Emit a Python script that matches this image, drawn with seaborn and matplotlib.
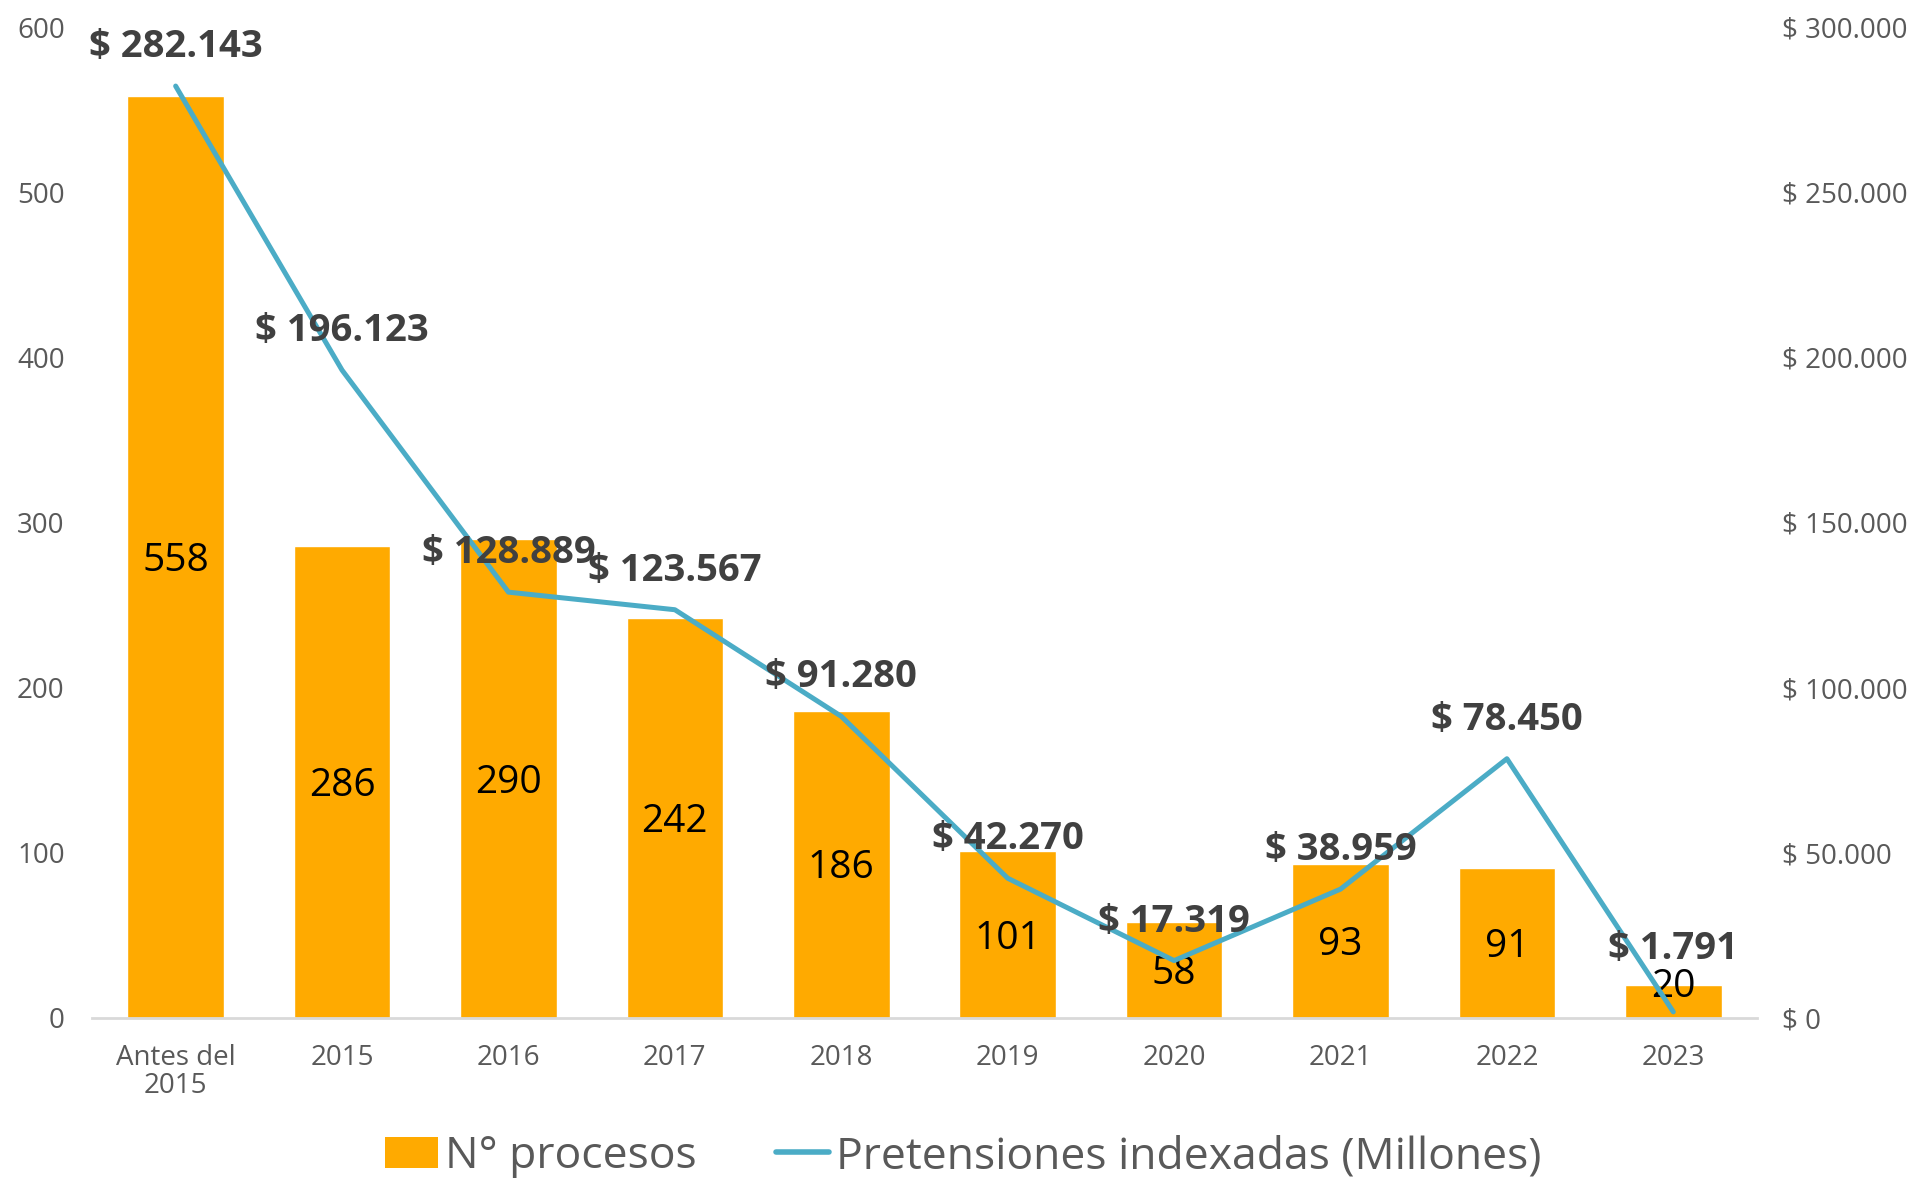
import numpy as np
import pandas as pd
import seaborn as sns
import matplotlib.pyplot as plt
from matplotlib.patches import Patch
from matplotlib.lines import Line2D

sns.set_theme(style="white")
plt.rcParams['font.family'] = ['Open Sans', 'DejaVu Sans']

periodos = ['Antes del\n2015', '2015', '2016', '2017', '2018', '2019', '2020', '2021', '2022', '2023']
procesos = [558, 286, 290, 242, 186, 101, 58, 93, 91, 20]
pretensiones = [282143, 196123, 128889, 123567, 91280, 42270, 17319, 38959, 78450, 1791]

bar_color = '#FFAA00'
line_color = '#4BACC6'
gray = '#595959'

df = pd.DataFrame({'periodo': periodos, 'procesos': procesos, 'pretensiones': pretensiones})
df['pos'] = np.arange(len(df))


def pesos(v):
    return '$ ' + f"{v:,.0f}".replace(',', '.')


fig = plt.figure(figsize=(19.26, 11.78), dpi=100)
ax = fig.add_axes([0.048, 0.136, 0.864, 0.841])

sns.barplot(data=df, x='pos', y='procesos', color=bar_color, width=0.58,
            saturation=1, ax=ax, native_scale=True)
# labels centred in the bar; very short bars get pushed up a little like Excel does
for x, v in zip(df['pos'], df['procesos']):
    ax.annotate(str(v), (x, max(v / 2, 21)), xytext=(0, -3), textcoords='offset points',
                ha='center', va='center', fontsize=28, color='black')

ax.set_xlim(-0.5, len(df) - 0.5)
ax.set_ylim(0, 600)
ax.set_yticks(range(0, 601, 100))
ax.set_xticks(df['pos'])
ax.set_xticklabels(periodos, linespacing=1.0)
ax.set_xlabel('')
ax.set_ylabel('')
ax.tick_params(axis='y', labelsize=20, labelcolor=gray, pad=20, length=0)
ax.tick_params(axis='x', labelsize=20, labelcolor=gray, pad=19, length=0)
for s in ['top', 'right', 'left']:
    ax.spines[s].set_visible(False)
ax.spines['bottom'].set_color('#D9D9D9')
ax.spines['bottom'].set_linewidth(2)

ax2 = ax.twinx()
sns.lineplot(data=df, x='pos', y='pretensiones', color=line_color, linewidth=3.6,
             ax=ax2, solid_capstyle='round')
ax2.set_ylim(0, 300000)
ax2.set_yticks(range(0, 300001, 50000))
ax2.set_yticklabels([pesos(v) for v in range(0, 300001, 50000)])
ax2.set_ylabel('')
ax2.tick_params(axis='y', labelsize=20, labelcolor=gray, pad=18, length=0)
for s in ['top', 'right', 'left', 'bottom']:
    ax2.spines[s].set_visible(False)

label_dy = [28, 28, 28, 28, 28, 28, 28, 28, 28, 45]
for x, v, dy in zip(df['pos'], df['pretensiones'], label_dy):
    ax2.annotate(pesos(v), (x, v), xytext=(0, dy), textcoords='offset points',
                 ha='center', va='center', fontsize=27.5, fontweight='bold', color='#404040')

handles = [Patch(facecolor=bar_color, edgecolor='none'),
           Line2D([0], [0], color=line_color, linewidth=4, solid_capstyle='round')]
fig.legend(handles, ['N° procesos', 'Pretensiones indexadas (Millones)'],
           loc='center', bbox_to_anchor=(0.5, 0.018), ncol=2, frameon=False,
           fontsize=32, labelcolor=gray, handlelength=1.2, handletextpad=0.15,
           columnspacing=1.8)

fig.savefig('out.png', dpi=100)
